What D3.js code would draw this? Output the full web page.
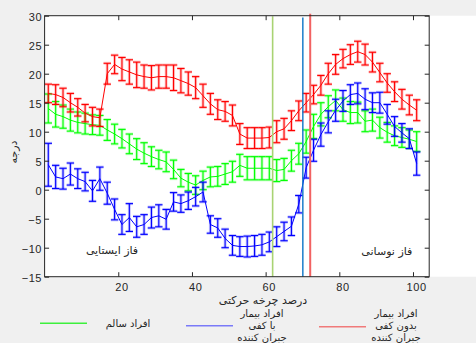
<!DOCTYPE html>
<html>
<head>
<meta charset="utf-8">
<script src="https://cdn.jsdelivr.net/npm/d3@7"></script>
<style>
  html, body { margin: 0; padding: 0; background: #f0f0f0; }
  svg { display: block; }
  .tick text { font-family: "Liberation Sans", Arial, sans-serif; font-size: 11px; fill: #262626; letter-spacing: 0.6px; }
  .fa { font-family: "DejaVu Sans", sans-serif; fill: #262626; }
</style>
</head>
<body>
<div id="chart"></div>
<script>
// gait cycle percent (x) for every plotted sample
const pct = [1,3,5,7,9,11,13,15,17,19,21,23,25,27,29,31,33,35,37,39,41,43,45,47,49,51,53,55,57,59,61,63,65,67,69,71,73,75,77,79,81,83,85,87,89,91,93,95,97,99,101]

// healthy subjects (green)
const healthyMean = [14.0,13.0,12.6,12.0,11.6,11.4,11.2,11.1,10.3,9.6, 8.8,7.9,7.0,6.3,5.7,5.2,4.8,3.5,2.0,1.3, 0.8,1.6,2.2,2.3,2.7,3.1,4.2,3.7,3.7,3.7, 3.7,3.3,3.5,5.0,6.2,8.3,10.9,13.0,14.3,15.4, 13.8,13.3,13.3,11.8,12.0,10.7,9.9,9.3,9.0,8.7,8.3]
const healthyErr = [2.5,2.2,2.0,1.9,1.8,1.8,1.7,1.7,1.8,1.7, 1.6,1.7,1.8,1.8,1.7,1.6,1.7,1.6,1.5,1.5, 1.6,1.6,1.7,1.7,1.8,1.8,1.9,2.0,2.0,2.0, 2.0,1.9,1.9,1.8,1.8,2.0,2.1,2.0,1.9,1.8, 2.0,1.9,1.8,1.8,1.9,1.8,1.7,1.7,1.7,1.6,1.7]

// patients with compensating insole (blue)
const insoleMean = [4.3,2.2,1.9,2.7,1.9,1.4,-0.2,1.9,-0.6,-3.4, -6.0,-4.8,-6.4,-6.0,-4.8,-4.5,-5.1,-2.1,-2.4,-1.9, -1.2,-0.4,-6.0,-6.6,-8.4,-9.6,-9.8,-9.8,-9.7,-9.5, -9.0,-8.1,-7.2,-6.3,-2.5,3.8,6.8,9.5,11.7,13.7, 15.3,16.4,16.6,15.6,15.0,15.0,13.0,10.9,9.8,8.8,4.5]
const insoleErr = [3.7,2.0,1.8,1.9,1.7,1.6,1.8,2.0,1.9,1.8, 1.7,2.4,1.8,1.7,1.8,1.9,1.7,1.6,1.5,1.5, 1.6,1.7,1.5,1.6,1.6,1.7,1.7,1.8,1.8,1.8, 1.7,1.7,1.6,1.6,1.5,1.8,1.9,2.0,1.9,1.9, 1.8,1.7,1.8,1.8,1.7,1.8,1.7,1.7,1.6,1.7,2.0]

// patients without compensating insole (red)
const noInsoleMean = [16.6,16.4,15.9,15.0,14.2,13.2,12.6,12.4,20.0,21.6, 20.8,20.3,19.8,19.5,19.3,19.5,19.5,19.3,18.8,18.3, 17.6,16.2,14.8,13.8,13.5,12.8,9.6,8.9,8.9,8.9, 9.0,10.0,10.5,11.9,13.6,15.0,16.4,18.0,20.0,21.6, 22.6,23.3,23.8,23.3,22.0,20.2,18.4,16.9,15.6,14.6,13.7]
const noInsoleErr = [1.6,1.7,1.6,1.6,1.5,1.5,1.6,1.5,1.8,1.6, 2.0,2.1,2.2,2.0,2.1,2.0,2.0,2.2,2.1,2.0, 1.9,2.0,1.8,1.7,1.7,1.8,1.8,1.8,1.8,1.8, 1.8,1.9,1.8,1.7,1.7,1.6,1.6,1.7,1.8,1.7, 1.6,1.7,1.8,1.8,1.7,1.6,1.6,1.7,1.7,1.7,1.8]

// toe-off markers: healthy, with insole, without insole
const toeOff = [61.9, 70.1, 72.1]
const toeOffTop = [29.9, 29.7, 30.35]

const xTicks = [20, 40, 60, 80, 100]
const yTicks = [-15, -10, -5, 0, 5, 10, 15, 20, 25, 30]

const seriesNames = ["افراد سالم", "افراد بیمار\nبا کفی\nجبران کننده", "افراد بیمار\nبدون کفی\nجبران کننده"]

const W = 476, H = 343
const plot = {left: 44.6, right: 429.2, top: 15.7, bottom: 276.7}

const svg = d3.select("#chart").append("svg")
    .attr("width", W)
    .attr("height", H)

svg.append("rect").attr("width", W).attr("height", H).attr("fill", "#f0f0f0")
// white area (axes background runs to the right edge)
svg.append("rect")
    .attr("x", plot.left).attr("y", plot.top)
    .attr("width", W - plot.left).attr("height", plot.bottom - plot.top)
    .attr("fill", "#ffffff")

const x = d3.scaleLinear().domain([0, 104.4]).range([plot.left, plot.right])
const y = d3.scaleLinear().domain([-15, 30]).range([plot.bottom, plot.top])

function drawSeries(mean, err, color) {
    const g = svg.append("g").attr("class", "series")
    const rows = pct.map((p, i) => ({x: p, m: mean[i], e: err[i]}))
    const cap = 3.7
    // soft halo + crisp stroke, like the exported matlab errorbars
    ;[{w: 3, o: 0.22}, {w: 1.1, o: 1}].forEach(s => {
        const bars = g.selectAll(null).data(rows).enter().append("g")
            .attr("stroke", color)
            .attr("stroke-width", s.w)
            .attr("stroke-opacity", s.o)
        bars.append("line")
            .attr("x1", d => x(d.x)).attr("x2", d => x(d.x))
            .attr("y1", d => y(d.m - d.e)).attr("y2", d => y(d.m + d.e))
        bars.append("line")
            .attr("x1", d => x(d.x) - cap).attr("x2", d => x(d.x) + cap)
            .attr("y1", d => y(d.m - d.e)).attr("y2", d => y(d.m - d.e))
        bars.append("line")
            .attr("x1", d => x(d.x) - cap).attr("x2", d => x(d.x) + cap)
            .attr("y1", d => y(d.m + d.e)).attr("y2", d => y(d.m + d.e))
    })
    g.append("path")
        .datum(rows)
        .attr("fill", "none")
        .attr("stroke", color)
        .attr("stroke-width", 1)
        .attr("d", d3.line().x(d => x(d.x)).y(d => y(d.m)))
}

drawSeries(healthyMean, healthyErr, "#00ff00")
drawSeries(insoleMean, insoleErr, "#0000ff")
drawSeries(noInsoleMean, noInsoleErr, "#ff0000")

// toe-off lines
const toeColors = ["#a9d373", "#0b74c6", "#f26262"]
const toeWidths = [1.6, 1.4, 2]
svg.selectAll("line.toeoff")
    .data(toeOff)
    .enter().append("line")
    .attr("class", "toeoff")
    .attr("x1", d => x(d)).attr("x2", d => x(d))
    .attr("y1", (d, i) => y(toeOffTop[i])).attr("y2", plot.bottom)
    .attr("stroke", (d, i) => toeColors[i])
    .attr("stroke-width", (d, i) => toeWidths[i])

// axes
const axisColor = "#262626"
const tick = -4.5
const gx = svg.append("g").attr("transform", `translate(0,${plot.bottom})`)
    .call(d3.axisBottom(x).tickValues(xTicks).tickSize(tick).tickSizeOuter(0).tickPadding(7))
gx.selectAll(".tick text").attr("dx", 3.2)
svg.append("g").attr("transform", `translate(0,${plot.top})`)
    .call(d3.axisTop(x).tickValues(xTicks).tickSize(tick).tickSizeOuter(0).tickFormat(""))
const gy = svg.append("g").attr("transform", `translate(${plot.left},0)`)
    .call(d3.axisLeft(y).tickValues(yTicks).tickSize(tick).tickSizeOuter(0).tickPadding(2.5))
gy.selectAll(".tick text").attr("dy", "0.4em")
svg.append("g").attr("transform", `translate(${plot.right},0)`)
    .call(d3.axisRight(y).tickValues(yTicks).tickSize(tick).tickSizeOuter(0).tickFormat(""))
svg.selectAll(".domain").remove()
svg.selectAll(".tick line").attr("stroke", axisColor)
svg.append("rect")
    .attr("x", plot.left).attr("y", plot.top)
    .attr("width", plot.right - plot.left).attr("height", plot.bottom - plot.top)
    .attr("fill", "none").attr("stroke", axisColor).attr("stroke-width", 1)

// labels
svg.append("text").attr("class", "fa")
    .attr("x", 263).attr("y", 304)
    .attr("text-anchor", "middle").attr("font-size", 11)
    .text("درصد چرخه حرکتی")
svg.append("text").attr("class", "fa")
    .attr("transform", "translate(17,152) rotate(-90)")
    .attr("text-anchor", "middle").attr("font-size", 11)
    .text("درجه")
svg.append("text").attr("class", "fa")
    .attr("x", x(18.3)).attr("y", y(-10.4) + 4)
    .attr("text-anchor", "middle").attr("font-size", 11)
    .text("فاز ایستایی")
svg.append("text").attr("class", "fa")
    .attr("x", x(92.9)).attr("y", y(-10.6) + 4)
    .attr("text-anchor", "middle").attr("font-size", 11)
    .text("فاز نوسانی")

// legend
const legendColors = ["#3cf03c", "#7a7af8", "#f07a7a"]
const legendLineX = [40, 186, 319]
const legendLineY = [323.3, 325.7, 326.7]
const legendTextX = [128, 262, 396]
seriesNames.forEach((name, i) => {
    svg.append("line")
        .attr("x1", legendLineX[i]).attr("x2", legendLineX[i] + 47)
        .attr("y1", legendLineY[i]).attr("y2", legendLineY[i])
        .attr("stroke", legendColors[i]).attr("stroke-width", 1.5)
    const lines = name.split("\n")
    const t = svg.append("text").attr("class", "fa")
        .attr("text-anchor", "middle").attr("font-size", 10)
    lines.forEach((ln, j) => {
        t.append("tspan")
            .attr("x", legendTextX[i])
            .attr("y", (lines.length === 1 ? 323 : 313 + j * 12.4) + 3.5)
            .text(ln)
    })
})
</script>
</body>
</html>
